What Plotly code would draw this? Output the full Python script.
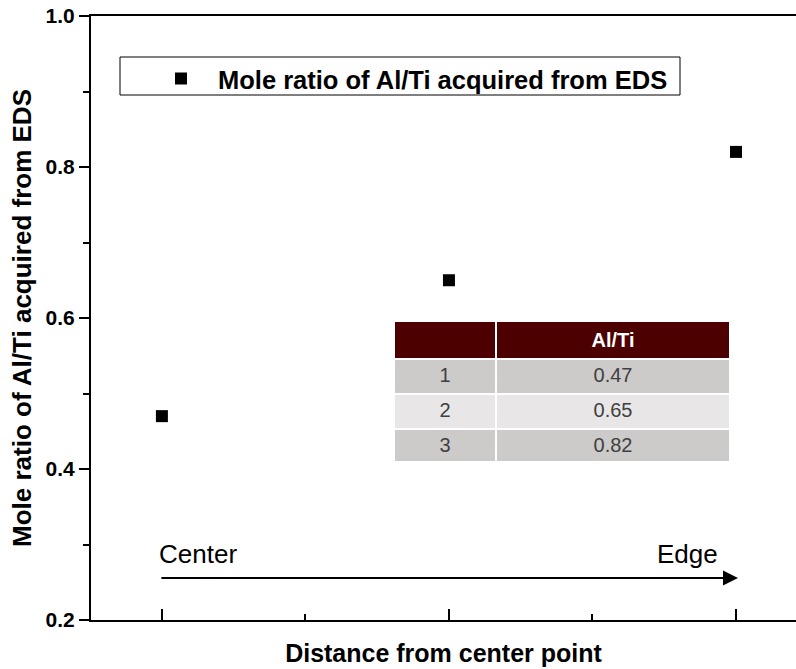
import plotly.graph_objects as go

# Measurement positions (center -> edge) and the EDS Al/Ti mole ratios
positions = [1, 2, 3]
al_ti_ratio = [0.47, 0.65, 0.82]
series_name = "Mole ratio of Al/Ti acquired from EDS"

# Y-axis ticks
y_tick_vals = [0.2, 0.4, 0.6, 0.8, 1.0]
y_tick_text = ["0.2", "0.4", "0.6", "0.8", "1.0"]

# Inset table
table_header = ["", "<b>Al/Ti</b>"]
table_rows = ["1", "2", "3"]

FONT = "Liberation Sans, Arial, sans-serif"
BOLD = dict(family=FONT, weight="bold", color="black")

fig = go.Figure()

fig.add_trace(go.Scatter(
    x=positions, y=al_ti_ratio, mode="markers", name=series_name,
    marker=dict(symbol="square", size=12, color="black"),
    showlegend=True,
))

# Table of the same values
row_fill = ["#cdcaca", "#e8e6e7", "#cdcaca"]
fig.add_trace(go.Table(
    domain=dict(x=[0.4298, 0.9078], y=[0.2632, 0.495]),
    columnwidth=[102, 234],
    header=dict(values=table_header, fill_color="#4d0000",
                line=dict(color="white", width=2), align="center",
                font=dict(family=FONT, size=20, color="white"), height=35),
    cells=dict(values=[table_rows, [f"{v:.2f}" for v in al_ti_ratio]],
               fill_color=[row_fill, row_fill],
               line=dict(color="white", width=2), align="center",
               font=dict(family=FONT, size=20, color="#404040"), height=35),
))

axis_common = dict(showline=True, linecolor="black", linewidth=2,
                   showgrid=False, zeroline=False, tickcolor="black",
                   tickwidth=2)

fig.update_xaxes(
    **axis_common, range=[0.753, 3.209], mirror=True,
    tickmode="linear", tick0=1, dtick=1, ticks="inside", ticklen=11,
    showticklabels=False,
    minor=dict(tick0=0.5, dtick=0.5, ticks="inside", ticklen=6,
               tickwidth=2, tickcolor="black"),
    title=dict(text="Distance from center point", font=dict(size=25, **BOLD),
               standoff=23),
)
fig.update_yaxes(
    **axis_common, range=[0.2, 1.0], mirror=False,
    tickmode="array", tickvals=y_tick_vals,
    ticktext=[f"<b>{t}</b>" for t in y_tick_text],
    ticks="outside", ticklen=10,
    tickfont=dict(size=21, **BOLD),
    minor=dict(tickmode="linear", tick0=0.1, dtick=0.1, ticks="outside",
               ticklen=6, tickwidth=2, tickcolor="black"),
    title=dict(text=series_name, font=dict(size=26, **BOLD), standoff=6),
)

# Direction arrow from center to edge
fig.add_annotation(x=3.007, y=0.2556, ax=0.993, ay=0.2556,
                   xref="x", yref="y", axref="x", ayref="y", text="",
                   showarrow=True, arrowhead=2, arrowsize=1.5,
                   arrowwidth=2, arrowcolor="black")
fig.add_annotation(x=0.983, y=0.288, xref="x", yref="y", text="Center",
                   showarrow=False, xanchor="left", yanchor="middle",
                   font=dict(family=FONT, size=26, color="black"))
fig.add_annotation(x=2.944, y=0.288, xref="x", yref="y", text="Edge",
                   showarrow=False, xanchor="right", yanchor="middle",
                   font=dict(family=FONT, size=26, color="black"))

# Legend frame
fig.add_shape(type="rect", xref="paper", yref="paper",
              x0=(120 - 91) / 705, x1=(680 - 91) / 705,
              y0=(620 - 95) / 604, y1=(620 - 57) / 604,
              line=dict(color="black", width=1), fillcolor="rgba(0,0,0,0)")

fig.update_layout(
    width=796, height=669,
    margin=dict(l=91, r=0, t=16, b=49),
    paper_bgcolor="white", plot_bgcolor="white",
    font=dict(family=FONT, color="black"),
    legend=dict(x=(144 - 91) / 705, y=(620 - 79) / 604, xanchor="left",
                yanchor="middle", bgcolor="rgba(0,0,0,0)", borderwidth=0,
                itemwidth=64, font=dict(size=25.5, **BOLD)),
)

fig.write_html("out.html")
